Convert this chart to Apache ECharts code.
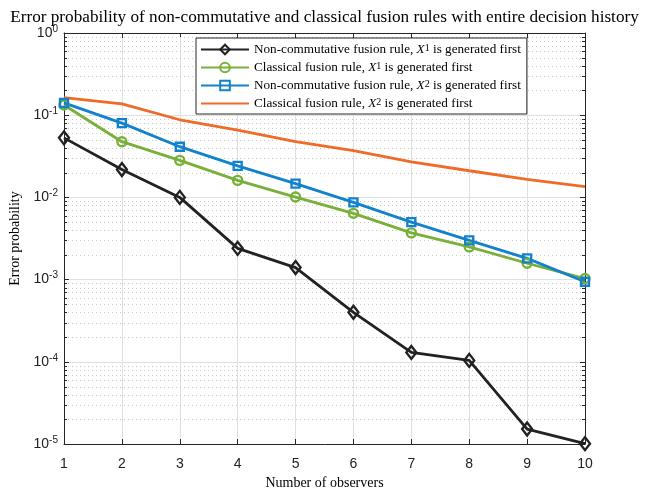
<!DOCTYPE html>
<html>
<head>
<meta charset="utf-8">
<script src="https://cdn.jsdelivr.net/npm/echarts@6/dist/echarts.min.js"></script>
<style>
  html, body { margin: 0; padding: 0; background: #fff; }
  #chart { width: 649px; height: 491px; }
</style>
</head>
<body>
<div id="chart"></div>
<script>
// observers on the x axis
const observers = [1, 2, 3, 4, 5, 6, 7, 8, 9, 10]

// error probabilities
const nonCommX1 = [0.053, 0.0218, 0.0100, 0.0024, 0.00140, 0.00040, 0.000130, 0.000104, 0.0000152, 0.0000101]
const classicX1 = [0.133, 0.0476, 0.0282, 0.0161, 0.0101, 0.0064, 0.0037, 0.0025, 0.00158, 0.00103]
const nonCommX2 = [0.141, 0.0800, 0.0414, 0.0242, 0.0147, 0.0087, 0.0050, 0.0030, 0.00181, 0.00094]
const classicX2 = [0.164, 0.137, 0.0880, 0.0660, 0.0478, 0.0370, 0.0270, 0.0211, 0.0166, 0.0135]

const seriesNames = [
  'Non-commutative fusion rule, X1 is generated first',
  'Classical fusion rule, X1 is generated first',
  'Non-commutative fusion rule, X2 is generated first',
  'Classical fusion rule, X2 is generated first'
]
const legendText = [
  'Non-commutative fusion rule, {it|X}{sup|1} is generated first',
  'Classical fusion rule, {it|X}{sup|1} is generated first',
  'Non-commutative fusion rule, {it|X}{sup|2} is generated first',
  'Classical fusion rule, {it|X}{sup|2} is generated first'
]

// minor log grid lines 2..9 in each decade
const minorVals = []
for (let e = -5; e < 0; e++) {
  for (let m = 2; m <= 9; m++) minorVals.push(m * Math.pow(10, e))
}

const serif = 'Liberation Serif'
const sans = 'Liberation Sans'
const axisColor = '#262626'

function pairs(ys) {
  return observers.map((x, i) => [x, ys[i]])
}

const chart = echarts.init(document.getElementById('chart'))

// hollow markers: the line stays visible through them, as in the matlab figure
const lineSeries = (name, ys, color, symbol, size) => ({
  name,
  type: 'line',
  data: pairs(ys),
  symbol,
  symbolSize: size,
  showSymbol: symbol !== 'none',
  z: 5,
  color,
  lineStyle: { color, width: 2.8 },
  itemStyle: {
    color: 'rgba(255,255,255,0)',
    borderColor: color,
    borderWidth: 2.4,
    opacity: symbol === 'none' ? 0 : 1
  },
  emphasis: { disabled: true }
})

chart.setOption({
  animation: false,
  backgroundColor: '#fff',
  title: {
    text: 'Error probability of non-commutative and classical fusion rules with entire decision history',
    left: 'center',
    top: 4,
    textStyle: { fontFamily: serif, fontSize: 17.2, fontWeight: 'normal', color: '#000' }
  },
  grid: { left: 64, right: 64, top: 33, bottom: 47, outerBoundsMode: 'none' },
  legend: {
    orient: 'vertical',
    left: 196,
    top: 38,
    itemWidth: 48,
    itemHeight: 12,
    itemGap: 5,
    padding: [5, 6, 4, 4],
    borderColor: axisColor,
    borderWidth: 1,
    backgroundColor: '#fff',
    borderRadius: 0,
    data: seriesNames,
    formatter: name => legendText[seriesNames.indexOf(name)],
    textStyle: {
      fontFamily: serif,
      fontSize: 13.2,
      color: '#000',
      rich: {
        it: { fontFamily: serif, fontStyle: 'italic', fontSize: 13.2 },
        sup: { fontFamily: serif, fontSize: 10, verticalAlign: 'top', lineHeight: 9 }
      }
    }
  },
  xAxis: [
    {
      type: 'value',
      min: 1, max: 10, interval: 1,
      name: 'Number of observers',
      nameLocation: 'middle',
      nameGap: 31,
      nameTextStyle: { fontFamily: serif, fontSize: 14, color: '#000' },
      axisLine: { lineStyle: { color: axisColor, width: 1 } },
      axisTick: { inside: true, length: 5, lineStyle: { color: axisColor } },
      axisLabel: { fontFamily: sans, fontSize: 14, color: '#222', margin: 13 },
      splitLine: { show: true, lineStyle: { color: '#e0e0e0', width: 1 } }
    },
    {
      type: 'value',
      position: 'top',
      min: 1, max: 10, interval: 1,
      axisLine: { lineStyle: { color: axisColor, width: 1 } },
      axisTick: { inside: true, length: 5, lineStyle: { color: axisColor } },
      axisLabel: { show: false },
      splitLine: { show: false }
    }
  ],
  yAxis: [
    {
      type: 'log',
      logBase: 10,
      min: 1e-5, max: 1,
      name: 'Error probability',
      nameLocation: 'middle',
      nameGap: 42,
      nameTextStyle: { fontFamily: serif, fontSize: 14, color: '#000' },
      axisLine: { show: true, lineStyle: { color: axisColor, width: 1 } },
      axisTick: { inside: true, length: 5, lineStyle: { color: axisColor } },
      axisLabel: {
        margin: 6,
        formatter: v => '{b|10}{s|' + Math.round(Math.log10(v)) + '}',
        rich: {
          b: { fontFamily: sans, fontSize: 14, color: '#222' },
          s: { fontFamily: sans, fontSize: 10, color: '#222', verticalAlign: 'top', padding: [0, 0, 8, 0] }
        }
      },
      splitLine: { show: true, lineStyle: { color: '#e0e0e0', width: 1 } }
    },
    {
      type: 'log',
      logBase: 10,
      min: 1e-5, max: 1,
      position: 'right',
      axisLine: { show: true, lineStyle: { color: axisColor, width: 1 } },
      axisTick: { inside: true, length: 5, lineStyle: { color: axisColor } },
      axisLabel: { show: false },
      splitLine: { show: false }
    }
  ],
  series: [
    {
      // minor dotted grid and minor ticks of the log axis
      type: 'custom',
      silent: true,
      z: 1,
      data: minorVals.map(v => [1, v]),
      renderItem: (params, api) => {
        const p = api.coord([1, api.value(1)])
        const cs = params.coordSys
        const x0 = cs.x, x1 = cs.x + cs.width, y = Math.round(p[1]) + 0.5
        return {
          type: 'group',
          children: [
            { type: 'line', shape: { x1: x0, y1: y, x2: x1, y2: y },
              style: { stroke: '#c8c8c8', lineWidth: 1, lineDash: [1, 3] } },
            { type: 'line', shape: { x1: x0, y1: y, x2: x0 + 3, y2: y },
              style: { stroke: axisColor, lineWidth: 1 } },
            { type: 'line', shape: { x1: x1 - 3, y1: y, x2: x1, y2: y },
              style: { stroke: axisColor, lineWidth: 1 } }
          ]
        }
      }
    },
    lineSeries(seriesNames[0], nonCommX1, '#222222', 'diamond', [10, 13]),
    lineSeries(seriesNames[1], classicX1, '#79B03A', 'circle', 9),
    lineSeries(seriesNames[2], nonCommX2, '#1282CD', 'rect', 8),
    lineSeries(seriesNames[3], classicX2, '#F06A2A', 'none', 0)
  ]
})
</script>
</body>
</html>
